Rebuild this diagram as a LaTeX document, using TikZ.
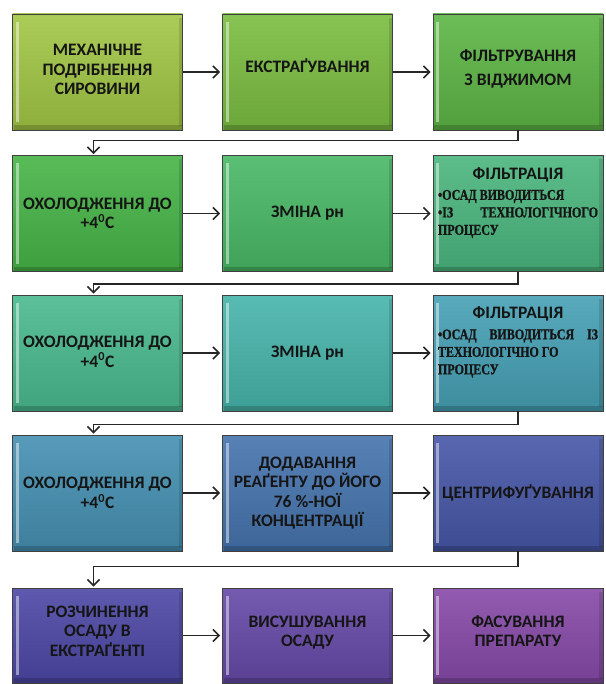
\documentclass[tikz,border=0pt]{standalone}
\usepackage{fontspec}
\setmainfont{Carlito}
\newfontfamily\bulletfont[FakeStretch=0.8,BoldFeatures={FakeBold=1}]{Liberation Serif}
\usetikzlibrary{arrows.meta,calc}
\definecolor{c11}{HTML}{A2C645}
\definecolor{c12}{HTML}{7ABD40}
\definecolor{c13}{HTML}{5CB545}
\definecolor{c21}{HTML}{46B446}
\definecolor{c22}{HTML}{48B865}
\definecolor{c23}{HTML}{4AB67E}
\definecolor{c31}{HTML}{49BA8F}
\definecolor{c32}{HTML}{46B4AA}
\definecolor{c33}{HTML}{45A0B4}
\definecolor{c41}{HTML}{4590B2}
\definecolor{c42}{HTML}{4573AD}
\definecolor{c43}{HTML}{4656A7}
\definecolor{c51}{HTML}{4C47A5}
\definecolor{c52}{HTML}{6649A7}
\definecolor{c53}{HTML}{8649A8}
\definecolor{txt}{HTML}{151515}
\newcommand{\bultext}{\raggedright\bulletfont\bfseries\fontsize{15}{17.5}\selectfont}
\begin{document}
\begin{tikzpicture}[x=1pt,y=-1pt,
  stepbox/.style={draw=black!75, line width=0.9pt, minimum width=170pt, minimum height=116pt,
    inner sep=0pt, align=center, text=txt,
    font=\bfseries\fontsize{17.5}{19.5}\selectfont,
    path picture={
      \fill[white,opacity=0.45] ([xshift=3pt,yshift=-8pt]path picture bounding box.north west) rectangle ([xshift=6pt,yshift=8pt]path picture bounding box.south west);
      \fill[black,opacity=0.18] ([xshift=1pt]path picture bounding box.south west) rectangle ([yshift=5pt]path picture bounding box.south east);
      \fill[black,opacity=0.12] ([xshift=-4pt,yshift=-4pt]path picture bounding box.north east) rectangle ([yshift=4pt]path picture bounding box.south east);
    }},
  lastrow/.style={minimum height=95pt},
  fc/.style={top color=#1!90!white, bottom color=#1!88!black},
  arr/.style={-{Straight Barb[length=6pt,width=12pt,line width=1.6pt]}, line width=1.8pt, draw=black!85}]
\useasboundingbox (0,0) rectangle (605,684);
% row 1
\node[stepbox, fc=c11] (r1c1) at (97.5,72) {МЕХАНІЧНЕ\\ПОДРІБНЕННЯ\\СИРОВИНИ\\[-15pt]\mbox{}};
\node[stepbox, fc=c12] (r1c2) at (307.5,72) {ЕКСТРАҐУВАННЯ\\[-6pt]\mbox{}};
\node[stepbox, fc=c13] (r1c3) at (518,72) {ФІЛЬТРУВАННЯ\\[5pt]З ВІДЖИМОМ\\[-11pt]\mbox{}};
% row 2
\node[stepbox, fc=c21] (r2c1) at (97.5,213.5) {ОХОЛОДЖЕННЯ ДО\\+4\textsuperscript{0}С};
\node[stepbox, fc=c22] (r2c2) at (307.5,213.5) {ЗМІНА рн};
\node[stepbox, fc=c23] (r2c3) at (518,213.5) {\parbox[c][110pt][t]{160pt}{\vspace{9pt}\centering ФІЛЬТРАЦІЯ\par
  \bultext\vspace{3pt}
  •ОСАД ВИВОДИТЬСЯ\par
  \makebox[\linewidth][s]{•ІЗ\hfill ТЕХНОЛОГІЧНОГО}\par
  ПРОЦЕСУ\par}};
% row 3
\node[stepbox, fc=c31] (r3c1) at (97.5,353) {ОХОЛОДЖЕННЯ ДО\\+4\textsuperscript{0}С\\[-17pt]\mbox{}};
\node[stepbox, fc=c32] (r3c2) at (307.5,353) {ЗМІНА рн};
\node[stepbox, fc=c33] (r3c3) at (518,353) {\parbox[c][110pt][t]{160pt}{\vspace{9pt}\centering ФІЛЬТРАЦІЯ\par
  \bultext\vspace{3pt}
  \makebox[\linewidth][s]{•ОСАД\hfill ВИВОДИТЬСЯ\hfill ІЗ}\par
  ТЕХНОЛОГІЧНО ГО\par
  ПРОЦЕСУ\par}};
% row 4
\node[stepbox, fc=c41] (r4c1) at (97.5,493) {ОХОЛОДЖЕННЯ ДО\\+4\textsuperscript{0}С};
\node[stepbox, fc=c42] (r4c2) at (307.5,493) {ДОДАВАННЯ\\РЕАҐЕНТУ ДО ЙОГО\\76 \%-НОЇ\\КОНЦЕНТРАЦІЇ};
\node[stepbox, fc=c43] (r4c3) at (518,493) {ЦЕНТРИФУҐУВАННЯ};
% row 5
\node[stepbox, lastrow, fc=c51] (r5c1) at (97.5,635.5) {РОЗЧИНЕННЯ\\ОСАДУ В\\ЕКСТРАҐЕНТІ\\[-11pt]\mbox{}};
\node[stepbox, lastrow, fc=c52] (r5c2) at (307.5,635.5) {ВИСУШУВАННЯ\\ОСАДУ\\[-11pt]\mbox{}};
\node[stepbox, lastrow, fc=c53] (r5c3) at (518,635.5) {ФАСУВАННЯ\\ПРЕПАРАТУ\\[-11pt]\mbox{}};
% horizontal arrows
\foreach \r in {1,...,5}{
  \draw[arr, shorten >=2pt] (r\r c1.east) -- (r\r c2.west);
  \draw[arr, shorten >=2pt] (r\r c2.east) -- (r\r c3.west);
}
% row-to-row connectors
\draw[arr, shorten >=1pt] (r1c3.south) -- ++(0,10) -| ([xshift=-4pt]r2c1.north);
\draw[arr, shorten >=1pt] (r2c3.south) -- ++(0,12) -| ([xshift=-4pt]r3c1.north);
\draw[arr, shorten >=1pt] (r3c3.south) -- ++(0,13) -| ([xshift=-4pt]r4c1.north);
\draw[arr, shorten >=1pt] (r4c3.south) -- ++(0,15) -| ([xshift=-4pt]r5c1.north);
\end{tikzpicture}
\end{document}
